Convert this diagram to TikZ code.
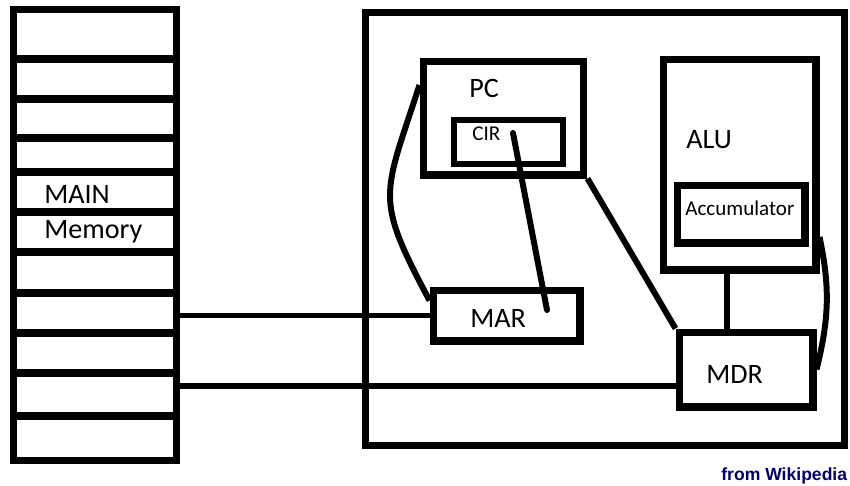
\documentclass[tikz,border=0pt]{standalone}
\usepackage{fontspec}
\setmainfont{Carlito}
\newfontfamily\wikifont{Liberation Sans}
\definecolor{wikiblue}{RGB}{0,0,110}
\begin{document}
\begin{tikzpicture}[x=0.02cm, y=-0.02cm,
	box/.style={draw, line width=4pt, inner sep=0pt},
	thinbox/.style={draw, line width=3.4pt, inner sep=0pt},
	wire/.style={line width=3.4pt},
	lbl/.style={font=\fontsize{16}{16}\selectfont, inner sep=0pt, anchor=base west},
	smalllbl/.style={font=\fontsize{12}{12}\selectfont, inner sep=0pt, anchor=base west}]
	\useasboundingbox (0,0) rectangle (850,485);
	% main memory column
	\node[box, minimum width=3.27cm, minimum height=9.02cm] (mem) at (94.75,235) {};
	\foreach \y in {59,99,138,172,212,252,293,333,373,416}
		\draw[line width=4pt] (13,\y) -- (176.5,\y);
	\node[lbl] (mainlbl) at (44,203) {MAIN};
	\node[lbl] (memlbl) at (44,238) {Memory};
	% processor
	\node[box, minimum width=9.6cm, minimum height=8.68cm] (cpu) at (605,229) {};
	\node[box, minimum width=3.22cm, minimum height=2.28cm] (pc) at (503.5,118) {};
	\node[lbl] (pclbl) at (469,97) {PC};
	\node[thinbox, minimum width=2.18cm, minimum height=0.88cm] (cir) at (508.5,142) {};
	\node[smalllbl] (cirlbl) at (472,140) {CIR};
	\node[box, minimum width=2.94cm, minimum height=1.02cm] (mar) at (506.5,315.5) {};
	\node[lbl] (marlbl) at (470,327) {MAR};
	\node[box, minimum width=3.06cm, minimum height=4.22cm] (alu) at (739.5,164.5) {};
	\node[lbl] (alulbl) at (686,148) {ALU};
	\node[box, minimum width=2.56cm, minimum height=1.16cm] (acc) at (741,214) {};
	\node[smalllbl] (acclbl) at (685,215) {Accumulator};
	\node[box, minimum width=2.68cm, minimum height=1.5cm] (mdr) at (746,369.5) {};
	\node[lbl] (mdrlbl) at (706,383) {MDR};
	% connections
	\coordinate (mdrin) at ([yshift=-0.33cm]mdr.west);
	\draw[wire] (mar.west) -- (mar.west -| mem.east);
	\draw[wire] (mdrin) -- (mdrin -| mem.east);
	\draw[wire] ([yshift=0.66cm]pc.west) to[out=252, in=118, looseness=1.4] ([yshift=0.3cm]mar.west);
	\draw[wire, line cap=round] ([xshift=0.09cm, yshift=0.18cm]cir.center) -- ([xshift=0.81cm, yshift=0.11cm]mar.center);
	\draw[wire] (pc.south east) -- (mdr.north west);
	\draw[wire] ([xshift=-0.25cm]alu.south) -- ([xshift=-0.25cm]alu.south |- mdr.north);
	\draw[wire] ([yshift=-1.45cm]alu.east) to[out=282, in=76] (mdr.east);
	\node[font=\wikifont\bfseries\fontsize{10}{10}\selectfont, text=wikiblue, inner sep=0pt, anchor=base west] (source) at (721,480) {from Wikipedia};
\end{tikzpicture}
\end{document}
